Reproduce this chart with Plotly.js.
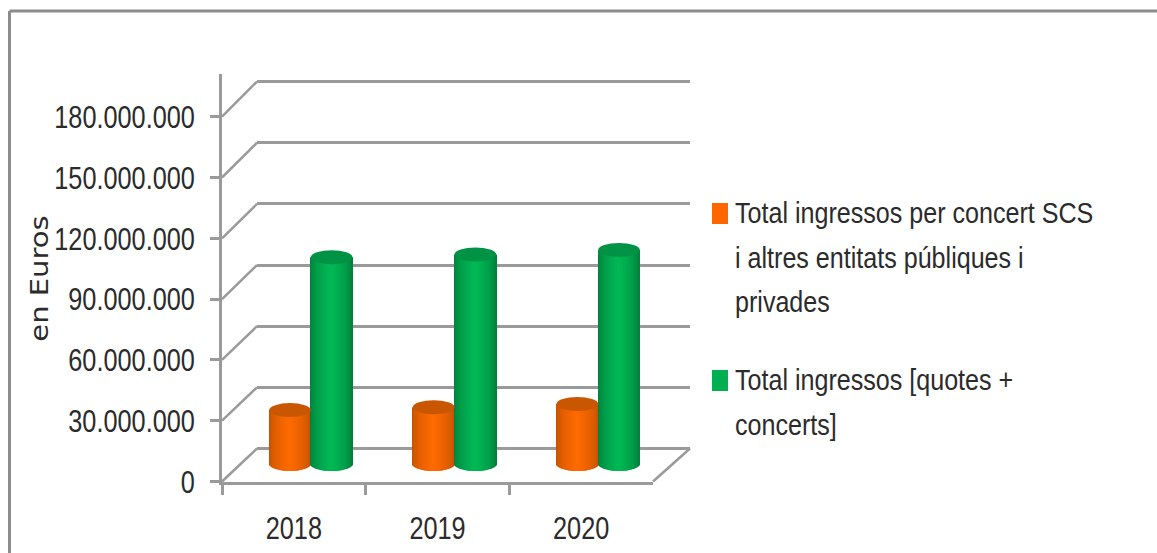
<!DOCTYPE html>
<html>
<head>
<meta charset="utf-8">
<script src="https://cdn.plot.ly/plotly-3.0.1.min.js"></script>
<style>html,body{margin:0;padding:0;background:#fff;overflow:hidden}#c{width:1157px;height:553px}</style>
</head>
<body>
<div id="c"></div>
<script>
var years = ['2018', '2019', '2020'];
var concertIncome = [26600000, 28000000, 29600000];
var totalIncome = [102000000, 103400000, 105600000];
var tickValues = [0, 30000000, 60000000, 90000000, 120000000, 150000000, 180000000];
var legendConcert = ['Total ingressos per concert SCS', 'i altres entitats públiques i', 'privades'];
var legendTotal = ['Total ingressos [quotes +', 'concerts]'];
var yTitle = 'en Euros';

var W = 1157, H = 553;
var GREY = '#9a9a9a', TEXT = '#2b2b2b', FONT = '"Liberation Sans",sans-serif';
var pxPerUnit = 60.8 / 30000000, wallPerUnit = 61.15 / 30000000;
var front = {l: 222, r: 653, zero: 481.5};
var wall = {dx: 35, zero: 448.5};
var barPlane = {dx: 17, dy: -17.5};
var halfBar = 0.145, strips = 42, capPx = 7;
var capUnits = capPx / pxPerUnit;

function xDom(a, b) { return [a / W, b / W]; }
function yDom(bottom, top) { return [1 - bottom / H, 1 - top / H]; }
function valueRange(zero, bottom, top, scale) { return [(zero - bottom) / scale, (zero - top) / scale]; }
function mix(a, b, f) {
  return 'rgb(' + a.map(function (v, i) { return Math.round(v + (b[i] - v) * f); }).join(',') + ')';
}

function cylinders(values, side, edge, centre, name) {
  var xs = [], bases = [], lens = [], cols = [], w = 2 * halfBar / strips;
  values.forEach(function (v, i) {
    for (var s = 0; s < strips; s++) {
      var t = (s + 0.5) / strips * 2 - 1;
      var e = capUnits * Math.sqrt(1 - t * t);
      xs.push(i + side * halfBar + t * halfBar);
      bases.push(-e);
      lens.push(v + e);
      cols.push(mix(edge, centre, Math.pow(Math.max(0, 1 - Math.abs(t)), 0.55)));
    }
  });
  return {type: 'bar', name: name, x: xs, y: lens, base: bases, width: w, xaxis: 'x3', yaxis: 'y3', opacity: 1,
    marker: {color: cols, opacity: 1, line: {width: 0}}, hoverinfo: 'skip', showlegend: false};
}
function capShapes(values, side, color) {
  return values.map(function (v, i) {
    return {type: 'circle', xref: 'x3', yref: 'y3', layer: 'above', fillcolor: color, line: {width: 0},
      x0: i + side * halfBar - halfBar, x1: i + side * halfBar + halfBar, y0: v - capUnits, y1: v + capUnits};
  });
}

var traces = [
  {type: 'scatter', x: years, y: [null, null, null], xaxis: 'x', yaxis: 'y', hoverinfo: 'skip', showlegend: false},
  {type: 'scatter', x: [0], y: [null], xaxis: 'x2', yaxis: 'y2', hoverinfo: 'skip', showlegend: false},
  cylinders(concertIncome, -1, [190, 80, 0], [255, 106, 0], legendConcert.join(' ')),
  cylinders(totalIncome, 1, [0, 122, 58], [0, 186, 84], legendTotal.join(' '))
];

var frontY = function (v) { return front.zero - v * pxPerUnit; };
var wallY = function (v) { return wall.zero - v * wallPerUnit; };
var shapes = [
  {type: 'line', xref: 'paper', yref: 'paper', x0: 9.5 / W, x1: 1, y0: 1 - 11 / H, y1: 1 - 11 / H, line: {color: '#8c8c8c', width: 3}},
  {type: 'line', xref: 'paper', yref: 'paper', x0: 9.5 / W, x1: 9.5 / W, y0: 0, y1: 1 - 11 / H, line: {color: '#8c8c8c', width: 3}},
  {type: 'line', xref: 'paper', yref: 'paper', layer: 'below', x0: front.r / W, x1: (front.r + wall.dx + 2) / W,
    y0: 1 - frontY(0) / H, y1: 1 - wallY(0) / H, line: {color: GREY, width: 2.5}}
];
tickValues.forEach(function (v) {
  shapes.push({type: 'line', xref: 'paper', yref: 'paper', layer: 'below',
    x0: front.l / W, x1: (front.l + wall.dx) / W,
    y0: 1 - frontY(v) / H, y1: 1 - wallY(v) / H, line: {color: GREY, width: 2.5}});
});
shapes = shapes.concat(capShapes(concertIncome, -1, '#c95600'), capShapes(totalIncome, 1, '#009345'));
shapes.push({type: 'rect', xref: 'paper', yref: 'paper', x0: 712 / W, x1: 728 / W, y0: 1 - 224 / H, y1: 1 - 203 / H, fillcolor: '#ff6600', line: {width: 0}});
shapes.push({type: 'rect', xref: 'paper', yref: 'paper', x0: 712 / W, x1: 728 / W, y0: 1 - 391 / H, y1: 1 - 370 / H, fillcolor: '#00b050', line: {width: 0}});

var annotations = [];
function legendLines(lines, firstY) {
  lines.forEach(function (txt, i) {
    annotations.push({xref: 'paper', yref: 'paper', x: 733 / W, y: 1 - (firstY + i * 44.5) / H, xanchor: 'left', yanchor: 'middle',
      showarrow: false, text: txt, font: {family: FONT, size: 29, color: TEXT}});
  });
}
legendLines(legendConcert, 213);
legendLines(legendTotal, 380);
annotations.push({xref: 'paper', yref: 'paper', x: 39.5 / W, y: 1 - 278.5 / H, xanchor: 'center', yanchor: 'middle', textangle: -90,
  showarrow: false, text: yTitle, font: {family: '"DejaVu Sans",sans-serif', size: 25, color: TEXT}});

var hidden = {showgrid: false, zeroline: false, showline: false, showticklabels: false, ticks: ''};
var layout = {
  width: W, height: H, margin: {l: 0, r: 0, t: 0, b: 0, pad: 0, autoexpand: false},
  paper_bgcolor: '#fff', plot_bgcolor: 'rgba(0,0,0,0)', showlegend: false,
  separators: ',.', barmode: 'overlay', font: {family: FONT, size: 32, color: TEXT},
  xaxis: {type: 'category', categoryorder: 'array', categoryarray: years, range: [-0.5, 2.5], domain: xDom(front.l, front.r),
    anchor: 'y', tickson: 'boundaries', ticks: 'outside', ticklen: 11, tickwidth: 2.5, tickcolor: GREY,
    showline: true, linecolor: GREY, linewidth: 2.5, showgrid: false, zeroline: false, ticklabelstandoff: 16,
    tickfont: {family: FONT, size: 32, color: TEXT}},
  yaxis: {domain: yDom(front.zero, 74), range: valueRange(front.zero, front.zero, 74, pxPerUnit), anchor: 'x',
    tickmode: 'array', tickvals: tickValues, tickformat: ',d', ticks: 'outside', ticklen: 9, tickwidth: 2.5, tickcolor: GREY,
    showline: true, linecolor: GREY, linewidth: 2.5, showgrid: false, zeroline: false, ticklabelstandoff: 9,
    tickfont: {family: FONT, size: 32, color: TEXT}},
  xaxis2: Object.assign({}, hidden, {domain: xDom(front.l + wall.dx, front.r + wall.dx + 2), range: [0, 1], anchor: 'y2'}),
  yaxis2: {domain: yDom(wall.zero + 6, 70), range: valueRange(wall.zero, wall.zero + 6, 70, wallPerUnit), anchor: 'x2',
    tickmode: 'array', tickvals: tickValues, showgrid: true, gridcolor: GREY, gridwidth: 3,
    zeroline: false, showline: false, showticklabels: false, ticks: ''},
  xaxis3: Object.assign({}, hidden, {domain: xDom(front.l + barPlane.dx, front.r + barPlane.dx), range: [-0.5, 2.5], anchor: 'y3'}),
  yaxis3: Object.assign({}, hidden, {domain: yDom(front.zero + barPlane.dy + 14, 74),
    range: valueRange(front.zero + barPlane.dy, front.zero + barPlane.dy + 14, 74, pxPerUnit), anchor: 'x3'}),
  shapes: shapes, annotations: annotations
};

// The reference font is condensed and none is installed: squeeze the real text horizontally.
function squeeze(el, ratio, keepLeft) {
  var full = el.getComputedTextLength();
  var left = el.getBBox().x;
  el.setAttribute('textLength', full * ratio);
  el.setAttribute('lengthAdjust', 'spacingAndGlyphs');
  if (keepLeft) {
    var now = el.getBBox().x;
    el.setAttribute('x', parseFloat(el.getAttribute('x') || 0) + (left - now));
    var box = el.closest('.annotation').querySelector('rect');
    if (box) { box.setAttribute('width', full * ratio); }
  }
}
Plotly.newPlot('c', traces, layout, {displayModeBar: false}).then(function (gd) {
  gd.querySelectorAll('.xtick text, .ytick text').forEach(function (t) { squeeze(t, 0.79, false); });
  gd.querySelectorAll('.annotation-text').forEach(function (t) {
    if (t.textContent === yTitle) { squeeze(t, 1.16, false); }
    else { squeeze(t, 0.865, true); }
  });
});
</script>
</body>
</html>
